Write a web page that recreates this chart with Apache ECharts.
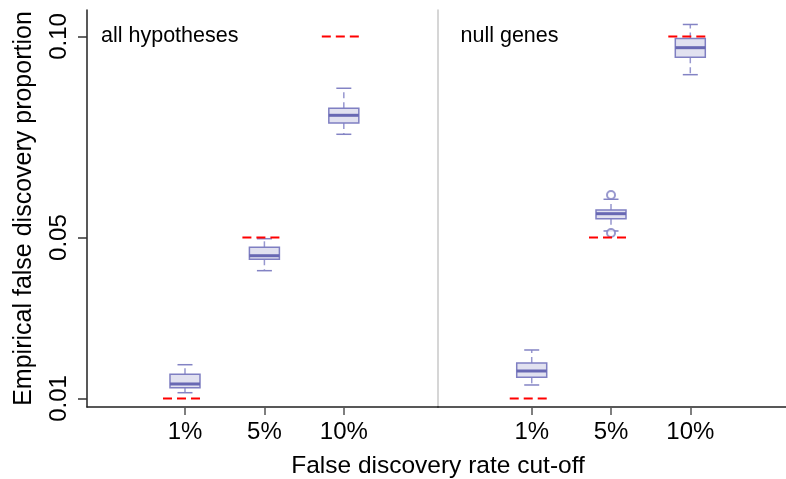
<!DOCTYPE html>
<html>
<head>
<meta charset="utf-8">
<script src="https://cdn.jsdelivr.net/npm/echarts@6/dist/echarts.min.js"></script>
<style>
  html, body { margin: 0; padding: 0; background: #fff; }
  #chart { width: 786px; height: 479px; }
</style>
</head>
<body>
<div id="chart"></div>
<script>
// cut-offs on the x axis (positions 1, 2, 3 in each panel)
const cutoffs = ['1%', '5%', '10%']
const targets = [0.01, 0.05, 0.10]

// [min, Q1, median, Q3, max] per cut-off
const allStats = [
  [0.01144, 0.01268, 0.01361, 0.01602, 0.01840],
  [0.04178, 0.04461, 0.04550, 0.04759, 0.04973],
  [0.07569, 0.07850, 0.08041, 0.08215, 0.08713]
]
const nullStats = [
  [0.01336, 0.01527, 0.01684, 0.01883, 0.02206],
  [0.05165, 0.05470, 0.05595, 0.05687, 0.05953],
  [0.09051, 0.09483, 0.09722, 0.09948, 0.10299]
]
// [cut-off index, value]
const nullOutliers = [[1, 0.06060], [1, 0.05115]]

const yTickValues = [0.01, 0.05, 0.10]
const yTickLabels = ['0.01', '0.05', '0.10']

const panelNames = ['all hypotheses', 'null genes']
const xTitle = 'False discovery rate cut-off'
const yTitle = 'Empirical false discovery proportion'

const font = "'Liberation Sans', Arial, Helvetica, sans-serif"
const xPos = cutoffs.map((c, i) => i + 1)

const boxData = stats => stats.map((s, i) => [xPos[i]].concat(s))
const targetData = targets.map((t, i) => [xPos[i], t])

function renderBox(params, api) {
  const x = api.value(0)
  const lo = api.coord([x, api.value(1)])
  const q1 = api.coord([x, api.value(2)])
  const md = api.coord([x, api.value(3)])
  const q3 = api.coord([x, api.value(4)])
  const hi = api.coord([x, api.value(5)])
  const cx = lo[0]
  const hw = 15
  const cw = 7.5
  const whisker = { stroke: '#9797cf', lineWidth: 1.5, lineDash: [6, 4] }
  const staple = { stroke: '#8383c4', lineWidth: 1.5 }
  return {
    type: 'group',
    children: [
      { type: 'line', shape: { x1: cx, y1: q3[1], x2: cx, y2: hi[1] }, style: whisker },
      { type: 'line', shape: { x1: cx, y1: q1[1], x2: cx, y2: lo[1] }, style: whisker },
      { type: 'line', shape: { x1: cx - cw, y1: hi[1], x2: cx + cw, y2: hi[1] }, style: staple },
      { type: 'line', shape: { x1: cx - cw, y1: lo[1], x2: cx + cw, y2: lo[1] }, style: staple },
      {
        type: 'rect',
        shape: { x: cx - hw, y: q3[1], width: hw * 2, height: q1[1] - q3[1] },
        style: { fill: '#e1e1f0', stroke: '#7f7fc2', lineWidth: 1.5 }
      },
      { type: 'line', shape: { x1: cx - hw, y1: md[1], x2: cx + hw, y2: md[1] }, style: { stroke: '#6868b3', lineWidth: 3 } }
    ]
  }
}

function renderTarget(params, api) {
  const p = api.coord([api.value(0), api.value(1)])
  return {
    type: 'line',
    shape: { x1: p[0] - 22, y1: p[1], x2: p[0] + 20, y2: p[1] },
    style: { stroke: '#ff0000', lineWidth: 2, lineDash: [9, 5] }
  }
}

const yMin = 0.007887
const yMax = 0.106589

const xAxisBase = {
  type: 'value',
  splitLine: { show: false },
  axisLine: { onZero: false, lineStyle: { color: '#222', width: 1.5 } },
  axisTick: { customValues: xPos, length: 8, lineStyle: { color: '#555', width: 1.5 } },
  axisLabel: {
    customValues: xPos,
    formatter: v => cutoffs[v - 1],
    fontSize: 24,
    fontFamily: font,
    color: '#000',
    margin: 13
  }
}

const chart = echarts.init(document.getElementById('chart'))

const option = {
  animation: false,
  backgroundColor: '#fff',
  grid: [
    { left: 87, top: 10, width: 351, height: 397 },
    { left: 438, top: 10, width: 348, height: 397 }
  ],
  xAxis: [
    Object.assign({ gridIndex: 0, min: -0.234, max: 4.186 }, xAxisBase),
    Object.assign({ gridIndex: 1, min: -0.182, max: 4.207 }, xAxisBase)
  ],
  yAxis: [
    {
      gridIndex: 0,
      type: 'value',
      min: yMin,
      max: yMax,
      splitLine: { show: false },
      axisLine: { show: true, onZero: false, lineStyle: { color: '#222', width: 1.5 } },
      axisTick: { customValues: yTickValues, length: 9, lineStyle: { color: '#333', width: 1.5 } },
      axisLabel: {
        customValues: yTickValues,
        formatter: v => yTickLabels[yTickValues.indexOf(v)],
        rotate: 90,
        fontSize: 24,
        fontFamily: font,
        color: '#000',
        margin: 16
      }
    },
    {
      gridIndex: 1,
      type: 'value',
      min: yMin,
      max: yMax,
      splitLine: { show: false },
      axisLine: { show: true, onZero: false, lineStyle: { color: '#c8c8c8', width: 1.5 } },
      axisTick: { show: false },
      axisLabel: { show: false }
    }
  ],
  series: [
    {
      type: 'custom',
      xAxisIndex: 0,
      yAxisIndex: 0,
      renderItem: renderBox,
      encode: { x: 0, y: [1, 2, 3, 4, 5] },
      data: boxData(allStats),
      z: 2
    },
    {
      type: 'custom',
      xAxisIndex: 1,
      yAxisIndex: 1,
      renderItem: renderBox,
      encode: { x: 0, y: [1, 2, 3, 4, 5] },
      data: boxData(nullStats),
      z: 2
    },
    {
      type: 'scatter',
      xAxisIndex: 1,
      yAxisIndex: 1,
      symbol: 'emptyCircle',
      symbolSize: 8,
      itemStyle: { color: '#7f7fc2', borderWidth: 1.3 },
      data: nullOutliers.map(o => [xPos[o[0]], o[1]]),
      z: 3
    },
    {
      type: 'custom',
      xAxisIndex: 0,
      yAxisIndex: 0,
      renderItem: renderTarget,
      encode: { x: 0, y: 1 },
      data: targetData,
      z: 4
    },
    {
      type: 'custom',
      xAxisIndex: 1,
      yAxisIndex: 1,
      renderItem: renderTarget,
      encode: { x: 0, y: 1 },
      data: targetData,
      z: 4
    }
  ],
  graphic: [
    {
      type: 'text', x: 101, y: 35.6,
      style: { text: panelNames[0], fontSize: 21.5, fontFamily: font, fill: '#000', textVerticalAlign: 'middle' }
    },
    {
      type: 'text', x: 460.5, y: 35.6,
      style: { text: panelNames[1], fontSize: 21.5, fontFamily: font, fill: '#000', textVerticalAlign: 'middle' }
    },
    {
      type: 'text', x: 438, y: 466,
      style: { text: xTitle, fontSize: 24.5, fontFamily: font, fill: '#000', textAlign: 'center', textVerticalAlign: 'middle' }
    },
    {
      type: 'text', x: 24, y: 208.5, rotation: Math.PI / 2,
      style: { text: yTitle, fontSize: 25, fontFamily: font, fill: '#000', textAlign: 'center', textVerticalAlign: 'middle' }
    }
  ]
}

chart.setOption(option)
</script>
</body>
</html>
